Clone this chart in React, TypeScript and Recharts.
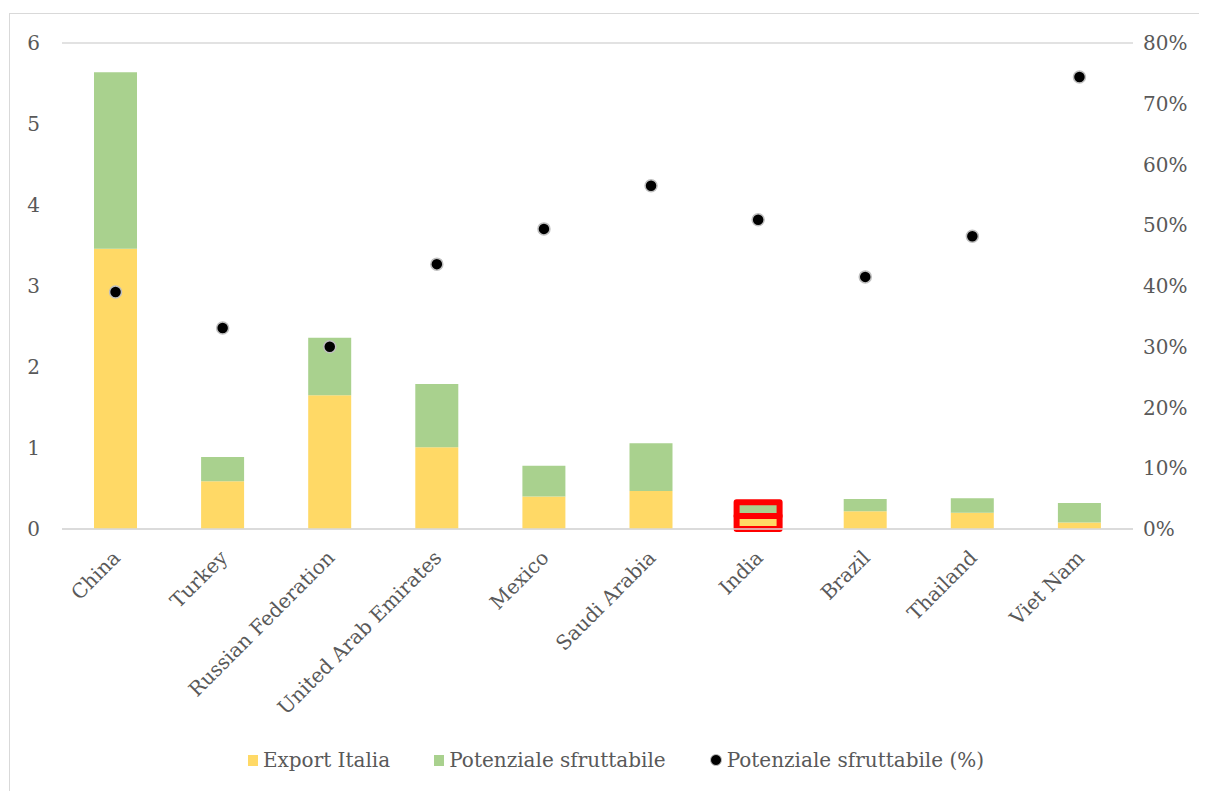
import { ComposedChart, Bar, Line, XAxis, YAxis, CartesianGrid, Legend, Cell } from 'recharts';

const countries = ['China', 'Turkey', 'Russian Federation', 'United Arab Emirates', 'Mexico', 'Saudi Arabia', 'India', 'Brazil', 'Thailand', 'Viet Nam'];
const exportItalia = [3.46, 0.59, 1.65, 1.01, 0.40, 0.47, 0.16, 0.22, 0.20, 0.08];
const potenziale = [2.18, 0.30, 0.71, 0.78, 0.38, 0.59, 0.17, 0.15, 0.18, 0.24];
const potenzialePct = [0.390, 0.331, 0.300, 0.436, 0.494, 0.565, 0.509, 0.415, 0.482, 0.744];
const leftTicks = [0, 1, 2, 3, 4, 5, 6];
const rightTicks = [0, 0.1, 0.2, 0.3, 0.4, 0.5, 0.6, 0.7, 0.8];
const highlighted = 'India';

const data = countries.map((name, i) => ({
  name,
  exportItalia: exportItalia[i],
  potenziale: potenziale[i],
  pct: potenzialePct[i],
}));

const FONT = '"DejaVu Serif", "Liberation Serif", serif';
const TEXT = '#595959';

const XTick = (props: any) => {
  const { x, y, payload } = props;
  return (
    <text x={x + 6} y={y + 22} transform={`rotate(-45, ${x + 6}, ${y + 22})`} textAnchor="end"
      fontFamily={FONT} fontSize={20} fill={TEXT}>
      {payload.value}
    </text>
  );
};

const LegendContent = () => (
  <div style={{ display: 'flex', justifyContent: 'center', gap: 44, fontFamily: FONT, fontSize: 20, color: TEXT, paddingLeft: 14 }}>
    <span style={{ display: 'flex', alignItems: 'center', gap: 5 }}>
      <span style={{ width: 10, height: 11, background: '#ffd966', display: 'inline-block' }} />Export Italia
    </span>
    <span style={{ display: 'flex', alignItems: 'center', gap: 5 }}>
      <span style={{ width: 10, height: 11, background: '#a9d18e', display: 'inline-block' }} />Potenziale sfruttabile
    </span>
    <span style={{ display: 'flex', alignItems: 'center', gap: 5 }}>
      <span style={{ width: 10, height: 10, borderRadius: 6, background: '#000', border: '1px solid #bfbfbf', display: 'inline-block' }} />Potenziale sfruttabile (%)
    </span>
  </div>
);

export default function App() {
  return (
    <div style={{ width: 1198, height: 778, border: '1px solid #d9d9d9', marginLeft: 1, marginTop: 5 }}>
      <ComposedChart width={1198} height={778} data={data} margin={{ top: 29, right: 0, bottom: 20, left: 0 }}>
        <CartesianGrid vertical={false} stroke="#d9d9d9" strokeWidth={1.5} />
        <XAxis dataKey="name" interval={0} height={219} tick={<XTick />} tickLine={false}
          axisLine={{ stroke: '#d9d9d9', strokeWidth: 1.5 }} />
        <YAxis yAxisId="left" domain={[0, 6]} ticks={leftTicks} width={52} axisLine={false} tickLine={false}
          tickSize={0} tickMargin={22} tick={{ fontFamily: FONT, fontSize: 20, fill: TEXT }} />
        <YAxis yAxisId="right" orientation="right" domain={[0, 0.8]} ticks={rightTicks} width={75}
          axisLine={false} tickLine={false} tickSize={0} tickMargin={10}
          tickFormatter={(v: number) => `${Math.round(v * 100)}%`}
          tick={{ fontFamily: FONT, fontSize: 20, fill: TEXT, textAnchor: 'start' }} />
        <Legend verticalAlign="bottom" content={<LegendContent />} />
        <Bar yAxisId="left" dataKey="exportItalia" stackId="a" fill="#ffd966" barSize={43} isAnimationActive={false}>
          {data.map((d) => (
            <Cell key={d.name} stroke={d.name === highlighted ? '#ff0000' : 'none'} strokeWidth={d.name === highlighted ? 6 : 0} strokeLinejoin="round" />
          ))}
        </Bar>
        <Bar yAxisId="left" dataKey="potenziale" stackId="a" fill="#a9d18e" barSize={43} isAnimationActive={false}>
          {data.map((d) => (
            <Cell key={d.name} stroke={d.name === highlighted ? '#ff0000' : 'none'} strokeWidth={d.name === highlighted ? 6 : 0} strokeLinejoin="round" />
          ))}
        </Bar>
        <Line yAxisId="right" dataKey="pct" stroke="none" isAnimationActive={false}
          dot={{ r: 6, fill: '#000', stroke: '#bfbfbf', strokeWidth: 1.5 }} activeDot={false} />
      </ComposedChart>
    </div>
  );
}
